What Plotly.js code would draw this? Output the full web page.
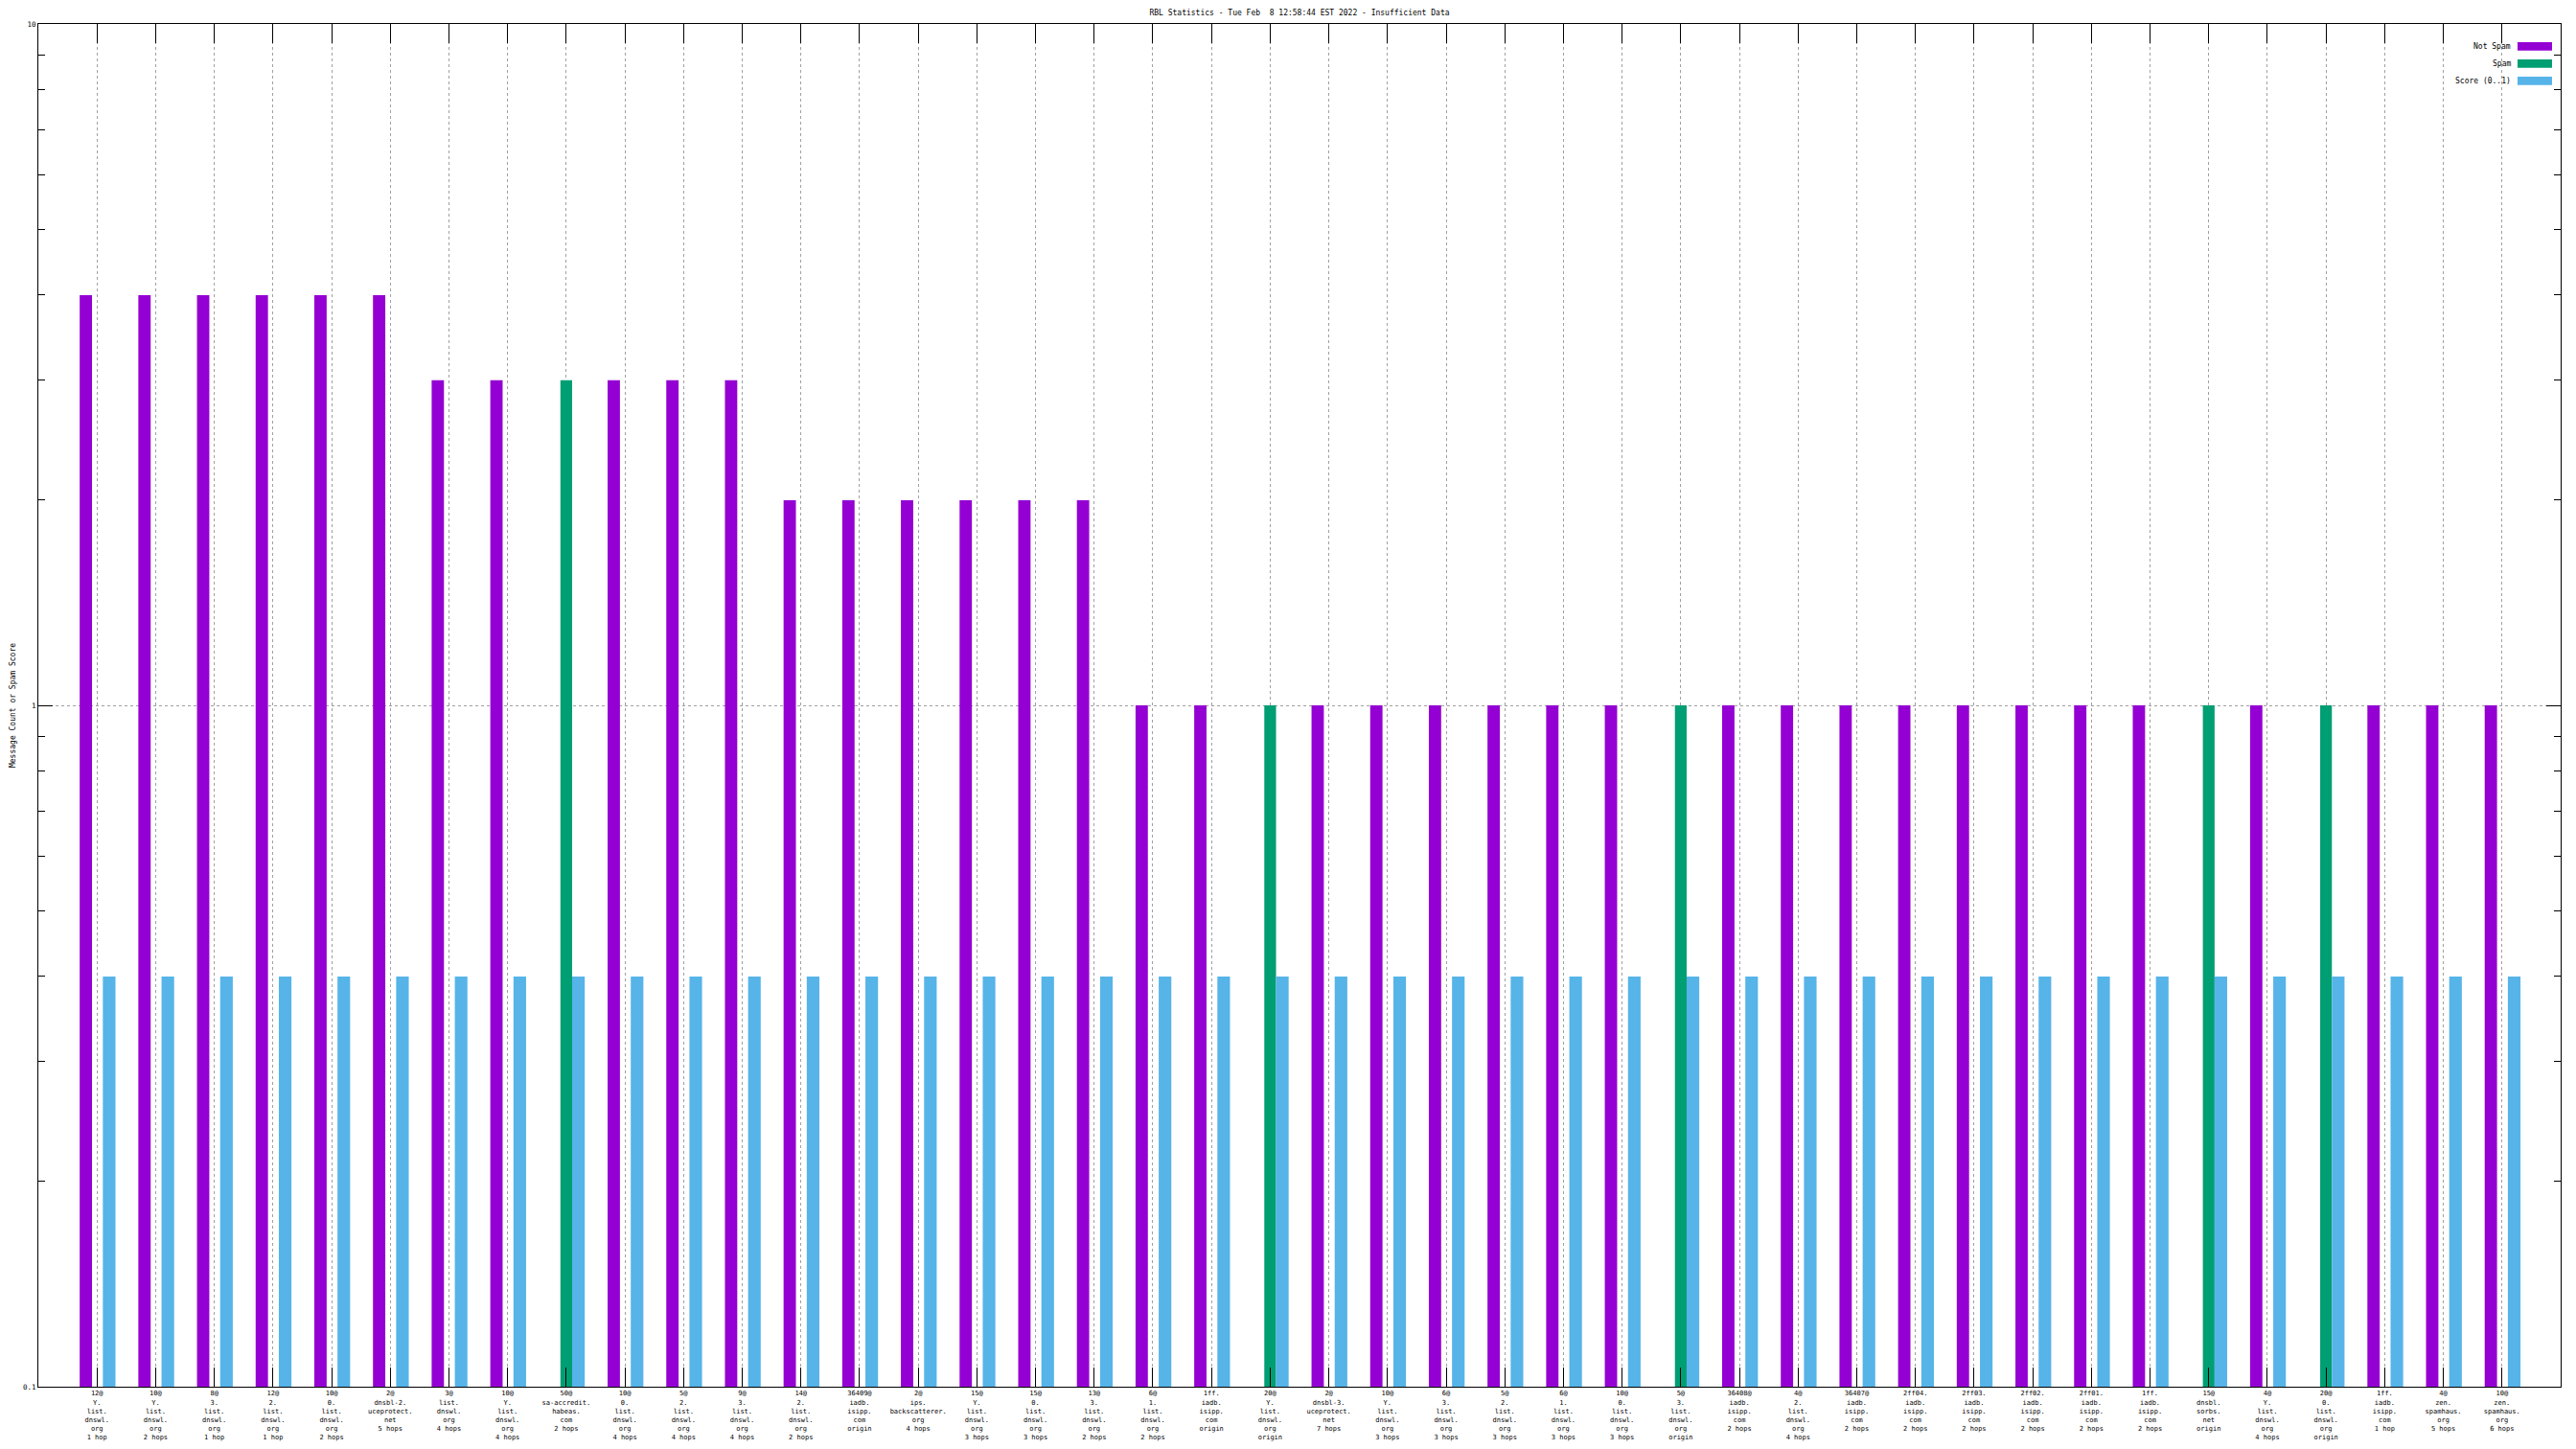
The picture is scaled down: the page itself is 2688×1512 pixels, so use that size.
<!DOCTYPE html>
<html>
<head>
<meta charset="utf-8">
<script src="https://cdn.plot.ly/plotly-3.0.1.min.js"></script>
<style>html,body{margin:0;padding:0;background:#fff;}#chart{width:2688px;height:1512px;}</style>
</head>
<body>
<div id="chart"></div>
<script>
// ---- data ----
var categories = [
  "12@<br>Y.<br>list.<br>dnswl.<br>org<br>1 hop",
  "10@<br>Y.<br>list.<br>dnswl.<br>org<br>2 hops",
  "8@<br>3.<br>list.<br>dnswl.<br>org<br>1 hop",
  "12@<br>2.<br>list.<br>dnswl.<br>org<br>1 hop",
  "10@<br>0.<br>list.<br>dnswl.<br>org<br>2 hops",
  "2@<br>dnsbl-2.<br>uceprotect.<br>net<br>5 hops",
  "3@<br>list.<br>dnswl.<br>org<br>4 hops",
  "10@<br>Y.<br>list.<br>dnswl.<br>org<br>4 hops",
  "50@<br>sa-accredit.<br>habeas.<br>com<br>2 hops",
  "10@<br>0.<br>list.<br>dnswl.<br>org<br>4 hops",
  "5@<br>2.<br>list.<br>dnswl.<br>org<br>4 hops",
  "9@<br>3.<br>list.<br>dnswl.<br>org<br>4 hops",
  "14@<br>2.<br>list.<br>dnswl.<br>org<br>2 hops",
  "36409@<br>iadb.<br>isipp.<br>com<br>origin",
  "2@<br>ips.<br>backscatterer.<br>org<br>4 hops",
  "15@<br>Y.<br>list.<br>dnswl.<br>org<br>3 hops",
  "15@<br>0.<br>list.<br>dnswl.<br>org<br>3 hops",
  "13@<br>3.<br>list.<br>dnswl.<br>org<br>2 hops",
  "6@<br>1.<br>list.<br>dnswl.<br>org<br>2 hops",
  "1ff.<br>iadb.<br>isipp.<br>com<br>origin",
  "20@<br>Y.<br>list.<br>dnswl.<br>org<br>origin",
  "2@<br>dnsbl-3.<br>uceprotect.<br>net<br>7 hops",
  "10@<br>Y.<br>list.<br>dnswl.<br>org<br>3 hops",
  "6@<br>3.<br>list.<br>dnswl.<br>org<br>3 hops",
  "5@<br>2.<br>list.<br>dnswl.<br>org<br>3 hops",
  "6@<br>1.<br>list.<br>dnswl.<br>org<br>3 hops",
  "10@<br>0.<br>list.<br>dnswl.<br>org<br>3 hops",
  "5@<br>3.<br>list.<br>dnswl.<br>org<br>origin",
  "36408@<br>iadb.<br>isipp.<br>com<br>2 hops",
  "4@<br>2.<br>list.<br>dnswl.<br>org<br>4 hops",
  "36407@<br>iadb.<br>isipp.<br>com<br>2 hops",
  "2ff04.<br>iadb.<br>isipp.<br>com<br>2 hops",
  "2ff03.<br>iadb.<br>isipp.<br>com<br>2 hops",
  "2ff02.<br>iadb.<br>isipp.<br>com<br>2 hops",
  "2ff01.<br>iadb.<br>isipp.<br>com<br>2 hops",
  "1ff.<br>iadb.<br>isipp.<br>com<br>2 hops",
  "15@<br>dnsbl.<br>sorbs.<br>net<br>origin",
  "4@<br>Y.<br>list.<br>dnswl.<br>org<br>4 hops",
  "20@<br>0.<br>list.<br>dnswl.<br>org<br>origin",
  "1ff.<br>iadb.<br>isipp.<br>com<br>1 hop",
  "4@<br>zen.<br>spamhaus.<br>org<br>5 hops",
  "10@<br>zen.<br>spamhaus.<br>org<br>6 hops"
];

var notSpam = [4,4,4,4,4,4, 3,3,null,3,3,3, 2,2,2,2,2,2,
               1,1,null,1,1,1,1,1,1,null,1,1,1,1,1,1,1,1,null,1,null,1,1,1];
var spam    = [null,null,null,null,null,null, null,null,3,null,null,null,
               null,null,null,null,null,null, null,null,1,null,null,null,null,null,null,1,
               null,null,null,null,null,null,null,null,1,null,1,null,null,null];
var score   = [0.4,0.4,0.4,0.4,0.4,0.4,0.4,0.4,0.4,0.4,0.4,0.4,0.4,0.4,
               0.4,0.4,0.4,0.4,0.4,0.4,0.4,0.4,0.4,0.4,0.4,0.4,0.4,0.4,
               0.4,0.4,0.4,0.4,0.4,0.4,0.4,0.4,0.4,0.4,0.4,0.4,0.4,0.4];

var seriesNames = ["Not Spam", "Spam", "Score (0..1)"];
var chartTitle = "RBL Statistics - Tue Feb  8 12:58:44 EST 2022 - Insufficient Data";
var yTitle = "Message Count or Spam Score";
var yTickVals = [0.1, 1, 10];
var yTickText = ["0.1", "1", "10"];
var yMinorVals = [0.2,0.3,0.4,0.5,0.6,0.7,0.8,0.9,2,3,4,5,6,7,8,9];

// ---- style ----
var colors = ["#9400D3", "#009E73", "#56B4E9"];
var FONT = "DejaVu Sans Mono, monospace";
var W = 2688, H = 1512;
var M = {l: 40, r: 16, t: 25, b: 65};
var PW = W - M.l - M.r, PH = H - M.t - M.b;

var traces = [
  {type: 'bar', name: seriesNames[0], x: categories, y: notSpam,
   offset: -0.295, width: 0.21, marker: {color: colors[0], line: {width: 0}}},
  {type: 'bar', name: seriesNames[1], x: categories, y: spam,
   offset: -0.10, width: 0.20, marker: {color: colors[1], line: {width: 0}}},
  {type: 'bar', name: seriesNames[2], x: categories, y: score,
   offset: 0.10, width: 0.215, marker: {color: colors[2], line: {width: 0}}}
];

// custom legend (text left, swatch right, as in gnuplot)
function px2x(px) { return (px - M.l) / PW; }
function py2y(py) { return (H - M.b - py) / PH; }
var shapes = [], annotations = [];
var rowY = [48.3, 66.3, 84.3];
for (var i = 0; i < 3; i++) {
  shapes.push({type: 'rect', xref: 'paper', yref: 'paper',
    x0: px2x(2627), x1: px2x(2663), y0: py2y(rowY[i] + 4.4), y1: py2y(rowY[i] - 4.4),
    fillcolor: colors[i], line: {width: 0}});
  annotations.push({xref: 'paper', yref: 'paper', x: px2x(2621.5), y: py2y(rowY[i]),
    xanchor: 'right', yanchor: 'middle', showarrow: false, text: seriesNames[i],
    font: {family: FONT, size: 8, color: '#000'}});
}

var layout = {
  width: W, height: H,
  margin: M,
  paper_bgcolor: '#fff', plot_bgcolor: '#fff',
  barmode: 'overlay',
  showlegend: false,
  font: {family: FONT, size: 7, color: '#000'},
  title: {text: chartTitle, font: {family: FONT, size: 8, color: '#000'},
          x: 0.5, xref: 'paper', xanchor: 'center', y: 1 - 13 / H, yref: 'container', yanchor: 'middle'},
  xaxis: {
    type: 'category', range: [-1, 42],
    showline: true, linecolor: '#000', linewidth: 1, mirror: 'allticks',
    ticks: 'inside', ticklen: 20, tickcolor: '#000', tickwidth: 1,
    showgrid: true, gridcolor: '#a0a0a0', griddash: 'dot', gridwidth: 1,
    tickangle: 0, tickfont: {family: FONT, size: 7, color: '#000'},
    zeroline: false, automargin: false
  },
  yaxis: {
    type: 'log', range: [-1, 1],
    showline: true, linecolor: '#000', linewidth: 1, mirror: 'allticks',
    ticks: 'inside', ticklen: 15, tickcolor: '#000', tickwidth: 1,
    tickvals: yTickVals, ticktext: yTickText,
    tickfont: {family: FONT, size: 7.5, color: '#000'},
    minor: {tickvals: yMinorVals, ticks: 'inside', ticklen: 7, tickcolor: '#000', showgrid: false},
    showgrid: true, gridcolor: '#a0a0a0', griddash: 'dot', gridwidth: 1,
    zeroline: false, automargin: false,
    title: {text: yTitle, font: {family: FONT, size: 8, color: '#000'}, standoff: 6}
  },
  shapes: shapes,
  annotations: annotations
};

Plotly.newPlot('chart', traces, layout, {staticPlot: true, displayModeBar: false});
</script>
</body>
</html>
